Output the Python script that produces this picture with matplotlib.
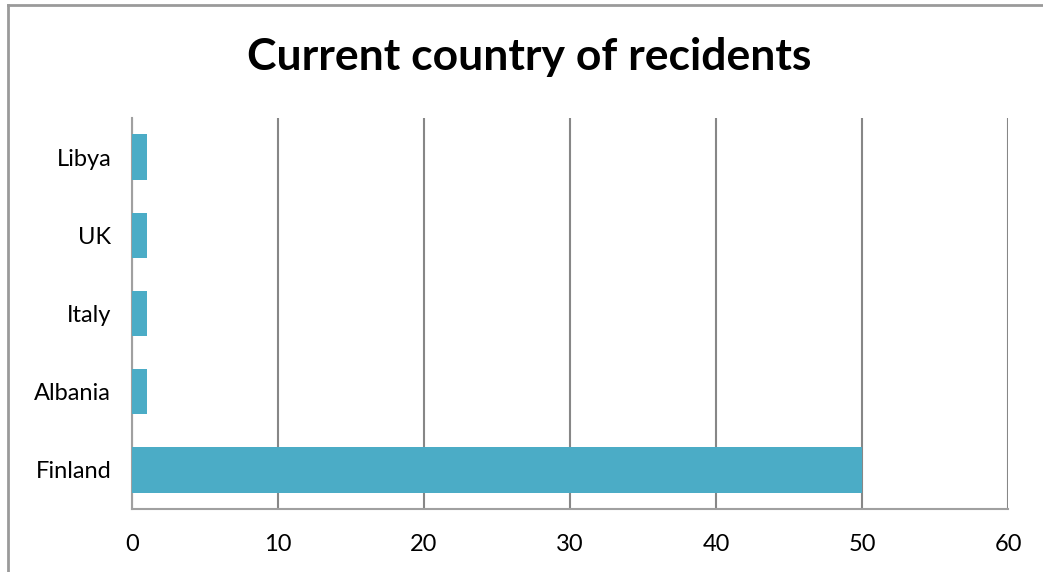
import matplotlib
matplotlib.use("Agg")
import matplotlib.pyplot as plt
from matplotlib.lines import Line2D

countries = ["Finland", "Albania", "Italy", "UK", "Libya"]
residents = [50, 1, 1, 1, 1]
xticks = [0, 10, 20, 30, 40, 50, 60]

plt.rcParams['font.family'] = ['Lato', 'DejaVu Sans']

fig = plt.figure(figsize=(10.43, 5.72), dpi=100)
W, H = 1043, 572
ax = fig.add_axes([132 / W, 1 - 509 / H, (1008 - 132) / W, (509 - 118) / H])

grid_col = "#878787"
ax.barh(range(len(countries)), residents, height=0.58, color="#4BACC6", zorder=3)
ax.set_xlim(0, 60)
ax.set_ylim(-0.5, len(countries) - 0.5)
ax.set_xticks(xticks)
ax.set_yticks(range(len(countries)))
ax.set_yticklabels(countries)
ax.grid(axis="x", color=grid_col, linewidth=1.5, zorder=1)
ax.tick_params(axis="both", length=0, labelsize=17, colors="black")
ax.tick_params(axis="x", pad=18)
ax.tick_params(axis="y", pad=15)
for s in ["top", "right"]:
    ax.spines[s].set_visible(False)
for s in ["left", "bottom"]:
    ax.spines[s].set_color("#a0a0a0")
    ax.spines[s].set_linewidth(1.5)

fig.text(529 / W, 1 - 57 / H, "Current country of recidents", ha="center", va="center",
         fontsize=32, fontweight="bold")

# outer chart border (top and left edges)
fig.add_artist(Line2D([8 / W, 1], [1 - 5 / H, 1 - 5 / H], color="#9a9a9a", linewidth=2))
fig.add_artist(Line2D([8 / W, 8 / W], [0, 1 - 5 / H], color="#9a9a9a", linewidth=2))

fig.savefig("out.png", dpi=100)
